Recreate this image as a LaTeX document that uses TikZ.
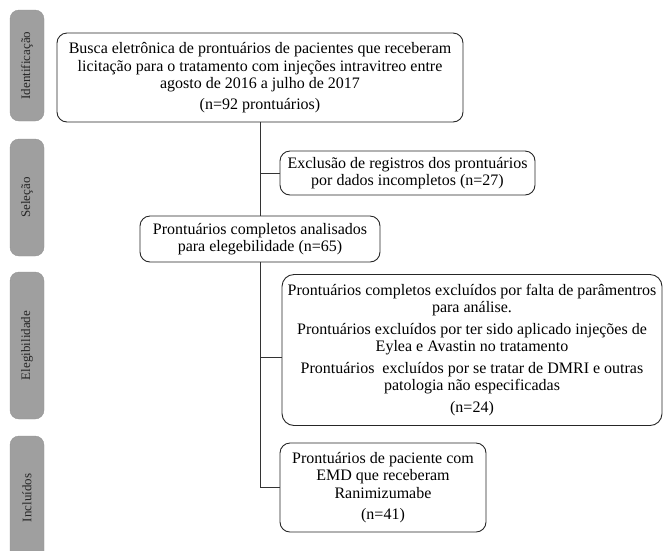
\documentclass[tikz,border=0pt]{standalone}
\usepackage{fontspec}
\setmainfont{Liberation Serif}
\usetikzlibrary{positioning}

\begin{document}
\begin{tikzpicture}[x=1pt,y=-1pt,
		etape/.style={rectangle,rounded corners=9pt,draw=gray!85,fill=gray!75,
			minimum width=34pt,inner sep=0pt},
		etiq/.style={rotate=90,font=\fontsize{13}{15}\selectfont,text=black!85},
		boite/.style={rectangle,rounded corners=10pt,draw=black!85,line width=0.9pt,
			fill=white,align=center,inner sep=2pt,font=\fontsize{16}{17.5}\selectfont},
		lien/.style={line width=0.7pt,black!80}]
		\useasboundingbox (0,0) rectangle (663,550);

		% barres des etapes
		\node[etape,minimum height=111pt] (ident) at (27,65.5) {};
		\node[etiq] at (ident) {Identificação};
		\node[etape,minimum height=117pt] (selec) at (27,197.5) {};
		\node[etiq] at (selec) {Seleção};
		\node[etape,minimum height=147pt] (eleg) at (27,345.5) {};
		\node[etiq] at (eleg) {Elegibilidade};
		\node[etape,minimum height=124pt] (incl) at (27,498) {};
		\node[etiq] at (incl) {Incluídos};

		% boites
		\node[boite,minimum width=406pt,minimum height=89pt] (busca)
			at (260,77.5) {Busca eletrônica de prontuários de pacientes que receberam\\
			licitação para o tratamento com injeções intravitreo entre\\
			agosto de 2016 a julho de 2017\\[3pt] (n=92 prontuários)};
		\node[boite,minimum width=255pt,minimum height=44pt] (exclus)
			at (407.5,173) {Exclusão de registros dos prontuários\\
			por dados incompletos (n=27)};
		\node[boite,minimum width=240pt,minimum height=46pt] (analis)
			at (260,239) {Prontuários completos analisados\\
			para elegebilidade (n=65)};
		\node[boite,rounded corners=12pt,minimum width=380pt,minimum height=151pt] (exclel)
			at (472,350) {Prontuários completos excluídos por falta de parâmentros\\
			para análise.\\[4pt]
			Prontuários excluídos por ter sido aplicado injeções de\\
			Eylea e Avastin no tratamento\\[4pt]
			Prontuários \ excluídos por se tratar de DMRI e outras\\
			patologia não especificadas\\[4pt] (n=24)};
		\node[boite,minimum width=206pt,minimum height=89pt] (inclus)
			at (383,487.5) {Prontuários de paciente com\\ EMD que receberam\\
			Ranimizumabe\\[4pt] (n=41)};
		\coordinate (entree) at ([yshift=-7pt]exclel.west);

		% liens
		\draw[lien] (busca.south) -- (analis.north);
		\draw[lien] (busca.south |- exclus.west) -- (exclus.west);
		\draw[lien] (analis.south) -- (analis.south |- inclus.west) -- (inclus.west);
		\draw[lien] (analis.south |- entree) -- (entree);
	\end{tikzpicture}
\end{document}
